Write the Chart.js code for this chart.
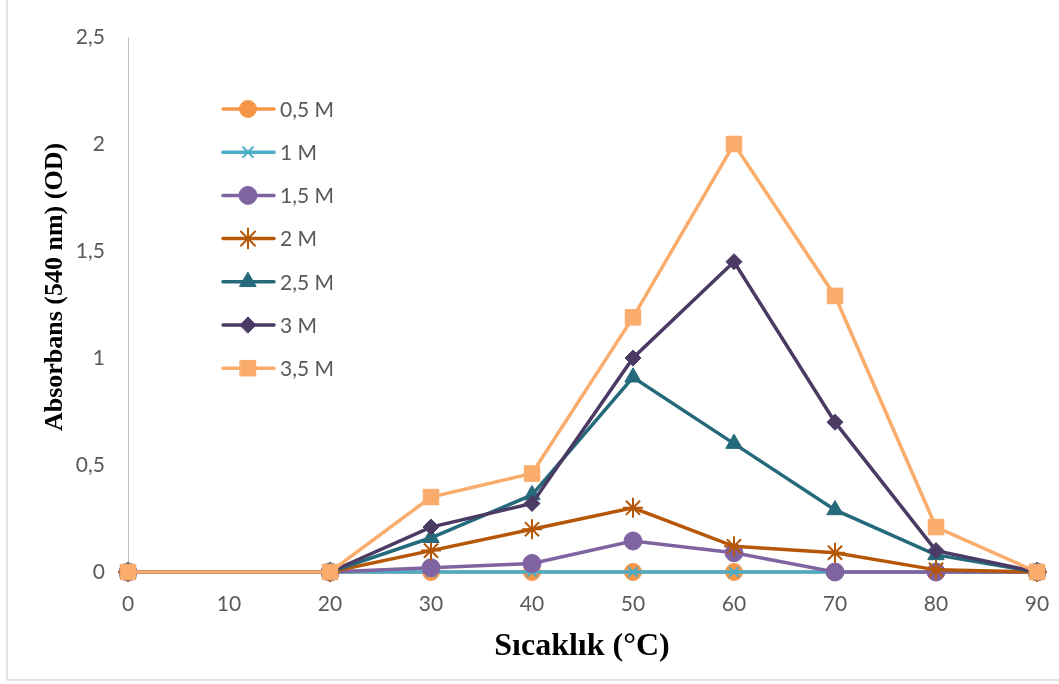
<!DOCTYPE html>
<html>
<head>
<meta charset="utf-8">
<script src="https://cdn.jsdelivr.net/npm/chart.js@4/dist/chart.umd.min.js"></script>
<style>
  html, body { margin: 0; padding: 0; background: #fff; }
  #wrap { position: relative; width: 1059px; height: 684px; }
</style>
</head>
<body>
<div id="wrap"><canvas id="myChart" width="1059" height="684"></canvas></div>
<script>
// temperatures (°C)
var temps = [0, 20, 30, 40, 50, 60, 70, 80, 90];

// absorbance values per concentration
var m05 = [0, 0, 0, 0, 0, 0, 0, 0, 0];
var m1  = [0, 0, 0, 0, 0, 0, 0, 0, 0];
var m15 = [0, 0, 0.02, 0.04, 0.145, 0.09, 0, 0, 0];
var m2  = [0, 0, 0.10, 0.20, 0.30, 0.12, 0.09, 0.01, 0];
var m25 = [0, 0, 0.16, 0.36, 0.91, 0.60, 0.29, 0.08, 0];
var m3  = [0, 0, 0.21, 0.32, 1.00, 1.45, 0.70, 0.10, 0];
var m35 = [0, 0, 0.35, 0.46, 1.19, 2.00, 1.29, 0.21, 0];

var seriesNames = ["0,5 M", "1 M", "1,5 M", "2 M", "2,5 M", "3 M", "3,5 M"];
var seriesData = [m05, m1, m15, m2, m25, m3, m35];
var colors = ["#F79646", "#4BACC6", "#8064A2", "#B65708", "#256A7B", "#4B3A63", "#F9AC6C"];
var styles = ["circle", "crossRot", "circle", "star", "triangle", "rectRot", "rect"];
var radii = [8.5, 7, 9, 10, 9.5, 8, 11];

function toPoints(vals) {
  return vals.map(function (v, i) { return { x: temps[i], y: v }; });
}

var datasets = seriesData.map(function (vals, i) {
  var open = styles[i] === "crossRot" || styles[i] === "star";
  return {
    label: seriesNames[i],
    data: toPoints(vals),
    borderColor: colors[i],
    backgroundColor: colors[i],
    borderWidth: 3.5,
    pointStyle: styles[i],
    pointRadius: radii[i],
    pointBorderWidth: open ? 2 : 1,
    pointBorderColor: colors[i],
    pointBackgroundColor: colors[i],
    tension: 0,
    clip: false,
    order: 7 - i
  };
});

// legend drawn inside the plot, line + marker + text
var insideLegend = {
  id: "insideLegend",
  afterDatasetsDraw: function (chart) {
    var ctx = chart.ctx;
    ctx.save();
    for (var i = 0; i < datasets.length; i++) {
      var y = 109 + i * 43.2;
      ctx.strokeStyle = colors[i];
      ctx.lineWidth = 3.5;
      ctx.lineCap = "round";
      ctx.beginPath();
      ctx.moveTo(223, y);
      ctx.lineTo(274, y);
      ctx.stroke();
      ctx.fillStyle = colors[i];
      ctx.lineWidth = datasets[i].pointBorderWidth;
      Chart.helpers.drawPoint(ctx, {
        pointStyle: styles[i], rotation: 0, radius: radii[i], borderWidth: datasets[i].pointBorderWidth
      }, 248, y);
      ctx.fillStyle = "#595959";
      ctx.font = "21px Lato";
      ctx.textBaseline = "middle";
      ctx.fillText(seriesNames[i], 280, y + 1);
    }
    ctx.restore();
  }
};

// axis titles and outer frame
var titles = {
  id: "titles",
  afterDraw: function (chart) {
    var ctx = chart.ctx;
    ctx.save();
    ctx.strokeStyle = "#d9d9d9";
    ctx.lineWidth = 1.5;
    ctx.beginPath();
    ctx.moveTo(7, 0);
    ctx.lineTo(7, 680);
    ctx.lineTo(1059, 680);
    ctx.stroke();

    ctx.fillStyle = "#000";
    ctx.textAlign = "center";
    ctx.textBaseline = "alphabetic";
    ctx.font = "bold 32px 'Liberation Serif'";
    ctx.fillText("Sıcaklık (°C)", 582, 655);
    ctx.translate(62, 287);
    ctx.rotate(-Math.PI / 2);
    ctx.font = "bold 26px 'Liberation Serif'";
    ctx.fillText("Absorbans (540 nm) (OD)", 0, 0);
    ctx.restore();
  }
};

var ctx = document.getElementById("myChart").getContext("2d");
var myChart = new Chart(ctx, {
  type: "line",
  data: { datasets: datasets },
  options: {
    responsive: false,
    animation: false,
    layout: { padding: { top: 37, right: 22, left: 0, bottom: 0 } },
    plugins: {
      legend: { display: false },
      tooltip: { enabled: false }
    },
    scales: {
      x: {
        type: "linear",
        min: 0,
        max: 90,
        grid: { display: false, drawTicks: false },
        border: { display: true, color: "#bfbfbf", width: 1 },
        ticks: { stepSize: 10, color: "#595959", font: { family: "Lato", size: 21 }, padding: 20 },
        afterFit: function (s) {
          s.height = 684 - 37 - 535;
          s.paddingLeft = 0;
          s.paddingRight = 0;
        }
      },
      y: {
        min: 0,
        max: 2.5,
        grid: { display: false, drawTicks: false },
        border: { display: true, color: "#bfbfbf", width: 1 },
        ticks: {
          stepSize: 0.5,
          color: "#595959",
          font: { family: "Lato", size: 21 },
          padding: 23,
          callback: function (v) { return String(v).replace(".", ","); }
        },
        afterFit: function (s) {
          s.width = 128;
          s.paddingTop = 0;
          s.paddingBottom = 0;
        }
      }
    }
  },
  plugins: [insideLegend, titles]
});
</script>
</body>
</html>
